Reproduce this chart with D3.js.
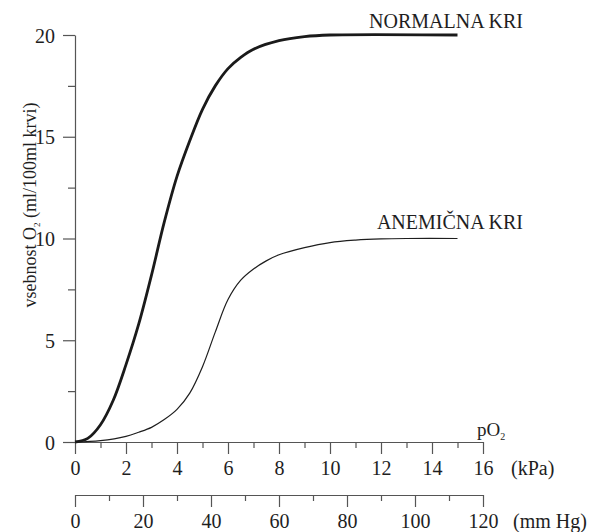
<!DOCTYPE html>
<html>
<head>
<meta charset="utf-8">
<script src="https://cdn.jsdelivr.net/npm/d3@7"></script>
<style>
  body { margin: 0; background: #fff; }
  svg { display: block; }
  svg text { font-family: "Liberation Serif", "Times New Roman", Times, "DejaVu Serif", serif; }
</style>
</head>
<body>
<svg id="chart" width="592" height="532"></svg>
<script>
const svg = d3.select('#chart');

// pO2 in kPa and O2 content (ml/100ml)
const normalKpa = [0, 0.5, 1, 1.5, 2, 2.5, 3, 3.5, 4, 4.5, 5, 5.5, 6, 6.5, 7, 8, 9, 10, 15];
const normalO2 = [0, 0.18, 0.85, 2.05, 3.8, 5.8, 8.2, 10.8, 13.05, 14.8, 16.35, 17.5, 18.35, 18.9, 19.3, 19.72, 19.92, 20, 20];
const anemicKpa = [0, 1, 2, 2.5, 3, 3.5, 4, 4.5, 5, 5.5, 6, 6.5, 7, 7.5, 8, 9, 10, 11, 12, 13, 15];
const anemicO2 = [0, 0.07, 0.28, 0.48, 0.72, 1.1, 1.6, 2.4, 3.7, 5.4, 7.0, 7.95, 8.5, 8.9, 9.2, 9.55, 9.8, 9.92, 9.98, 10, 10];

const yTicks = [0, 2.5, 5, 7.5, 10, 12.5, 15, 17.5, 20];
const kpaTicks = d3.range(0, 17, 1);
const mmTicks = d3.range(0, 130, 10);

const AXIS = '#555';
const INK = '#1e1e1e';
const FONT = '"Liberation Serif", "Times New Roman", Times, "DejaVu Serif", serif';

const x = d3.scaleLinear().domain([0, 16]).range([75, 483]);
const xMm = d3.scaleLinear().domain([0, 120]).range([75, 483]);
const y = d3.scaleLinear().domain([0, 20]).range([442, 35]);

// y axis
const yAxis = d3.axisLeft(y)
    .tickValues(yTicks)
    .tickSizeOuter(0)
    .tickFormat(d => d % 5 === 0 ? d : '');
const gy = svg.append('g').attr('transform', 'translate(75,0)').call(yAxis);
gy.selectAll('line').attr('x2', d => d % 5 === 0 ? -12 : -7);
gy.selectAll('text').attr('x', -20).attr('dy', '0.35em');

// kPa axis
const xAxis = d3.axisBottom(x)
    .tickValues(kpaTicks)
    .tickSizeOuter(0)
    .tickFormat(d => d % 2 === 0 ? d : '');
const gx = svg.append('g').attr('transform', 'translate(0,442)').call(xAxis);
gx.selectAll('line').attr('y2', d => d % 2 === 0 ? 12 : 6);
gx.selectAll('text').attr('y', 33).attr('dy', 0);

// mm Hg axis
const mmAxis = d3.axisBottom(xMm)
    .tickValues(mmTicks)
    .tickSizeOuter(0)
    .tickFormat(d => d % 20 === 0 ? d : '');
const gm = svg.append('g').attr('transform', 'translate(0,495)').call(mmAxis);
gm.selectAll('line').attr('y2', d => d % 20 === 0 ? 12 : 6);
gm.selectAll('text').attr('y', 33).attr('dy', 0);

svg.selectAll('g').attr('font-family', FONT).attr('font-size', 20);
svg.selectAll('.domain').attr('stroke', AXIS).attr('stroke-width', 1.2);
svg.selectAll('.tick line').attr('stroke', AXIS).attr('stroke-width', 1.2);
svg.selectAll('.tick text').attr('fill', INK);

// unit labels
svg.append('text').attr('x', 511).attr('y', 475).attr('fill', INK)
    .attr('font-size', 20).text('(kPa)');
svg.append('text').attr('x', 513).attr('y', 528).attr('fill', INK)
    .attr('font-size', 20).text('(mm Hg)');

const po2 = svg.append('text').attr('x', 477).attr('y', 436).attr('fill', INK).attr('font-size', 19);
po2.append('tspan').text('pO');
po2.append('tspan').attr('dy', 4).attr('font-size', 10).text('2');

// y title
const yt = svg.append('text')
    .attr('transform', 'translate(36,205) rotate(-90)')
    .attr('text-anchor', 'middle')
    .attr('fill', INK)
    .attr('font-size', 18);
yt.append('tspan').text('vsebnost O');
yt.append('tspan').attr('dy', 4).attr('font-size', 9).text('2');
yt.append('tspan').attr('dy', -4).text(' (ml/100ml krvi)');

// curves
const line = d3.line()
    .x(d => x(d[0]))
    .y(d => y(d[1]))
    .curve(d3.curveCatmullRom.alpha(0.5));

svg.append('path')
    .datum(d3.zip(anemicKpa, anemicO2))
    .attr('d', line)
    .attr('fill', 'none')
    .attr('stroke', INK)
    .attr('stroke-width', 1.2);

svg.append('path')
    .datum(d3.zip(normalKpa, normalO2))
    .attr('d', line)
    .attr('fill', 'none')
    .attr('stroke', '#1a1a1a')
    .attr('stroke-width', 2.8);

// curve labels
svg.append('text').attr('x', 523).attr('y', 28).attr('text-anchor', 'end')
    .attr('fill', INK).attr('font-size', 20).text('NORMALNA KRI');
svg.append('text').attr('x', 523).attr('y', 229).attr('text-anchor', 'end')
    .attr('fill', INK).attr('font-size', 20).text('ANEMIČNA KRI');
</script>
</body>
</html>
